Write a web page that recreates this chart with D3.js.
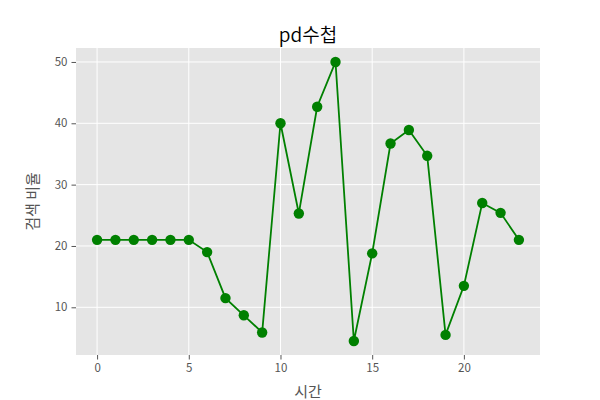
<!DOCTYPE html>
<html>
<head>
<meta charset="utf-8">
<script src="https://cdn.jsdelivr.net/npm/d3@7"></script>
<style>
  body { margin: 0; background: #fff; }
  svg { display: block; font-family: "Noto Sans CJK KR", "Noto Sans", sans-serif; }
</style>
</head>
<body>
<svg id="chart" width="600" height="400"></svg>
<script>
const hours = d3.range(0, 24);
const ratios = [21, 21, 21, 21, 21, 21, 19, 11.5, 8.7, 5.9, 40, 25.3, 42.7, 50, 4.5, 18.8, 36.7, 38.9, 34.7, 5.5, 13.5, 27, 25.4, 21];
const xTicks = [0, 5, 10, 15, 20];
const yTicks = [10, 20, 30, 40, 50];
const titleText = "pd수첩";
const xLabel = "시간";
const yLabel = "검색 비율";

const svg = d3.select("#chart");
const m = { left: 76, right: 540, top: 48, bottom: 355 };

const xMin = d3.min(hours), xMax = d3.max(hours);
const xPad = (xMax - xMin) * 0.05;
const yMin = d3.min(ratios), yMax = d3.max(ratios);
const yPad = (yMax - yMin) * 0.05;

const x = d3.scaleLinear().domain([xMin - xPad, xMax + xPad]).range([m.left, m.right]);
const y = d3.scaleLinear().domain([yMin - yPad, yMax + yPad]).range([m.bottom, m.top]);

svg.append("rect")
  .attr("x", m.left).attr("y", m.top)
  .attr("width", m.right - m.left).attr("height", m.bottom - m.top)
  .attr("fill", "#e5e5e5");

// gridlines
svg.append("g").selectAll("line").data(xTicks).join("line")
  .attr("x1", d => x(d)).attr("x2", d => x(d))
  .attr("y1", m.top).attr("y2", m.bottom)
  .attr("stroke", "#fff").attr("stroke-width", 1);
svg.append("g").selectAll("line").data(yTicks).join("line")
  .attr("y1", d => y(d)).attr("y2", d => y(d))
  .attr("x1", m.left).attr("x2", m.right)
  .attr("stroke", "#fff").attr("stroke-width", 1);

// axes
const xAxis = d3.axisBottom(x).tickValues(xTicks).tickSize(4.5).tickPadding(4).tickFormat(d3.format("d"));
const yAxis = d3.axisLeft(y).tickValues(yTicks).tickSize(4.5).tickPadding(4).tickFormat(d3.format("d"));

const gx = svg.append("g").attr("transform", `translate(0,${m.bottom})`).call(xAxis);
const gy = svg.append("g").attr("transform", `translate(${m.left},0)`).call(yAxis);
[gx, gy].forEach(g => {
  g.select(".domain").remove();
  g.selectAll(".tick line").attr("stroke", "#555").attr("stroke-width", 1);
  g.selectAll(".tick text").attr("fill", "#555").attr("font-size", 11.5)
    .attr("font-family", '"Noto Sans CJK KR", "Noto Sans", sans-serif');
});

// line
const line = d3.line().x((d, i) => x(hours[i])).y(d => y(d));
svg.append("path").datum(ratios)
  .attr("d", line).attr("fill", "none")
  .attr("stroke", "green").attr("stroke-width", 1.8);

svg.append("g").selectAll("circle").data(ratios).join("circle")
  .attr("cx", (d, i) => x(hours[i])).attr("cy", d => y(d))
  .attr("r", 5.2).attr("fill", "green");

// title & labels
svg.append("text").attr("x", (m.left + m.right) / 2).attr("y", 42)
  .attr("text-anchor", "middle").attr("font-size", 19).attr("font-weight", 350).attr("fill", "#000")
  .text(titleText);
svg.append("text").attr("x", (m.left + m.right) / 2).attr("y", 397)
  .attr("text-anchor", "middle").attr("font-size", 15).attr("fill", "#555")
  .text(xLabel);
svg.append("text")
  .attr("transform", `translate(38,${(m.top + m.bottom) / 2}) rotate(-90)`)
  .attr("text-anchor", "middle").attr("font-size", 15).attr("fill", "#555")
  .text(yLabel);
</script>
</body>
</html>
